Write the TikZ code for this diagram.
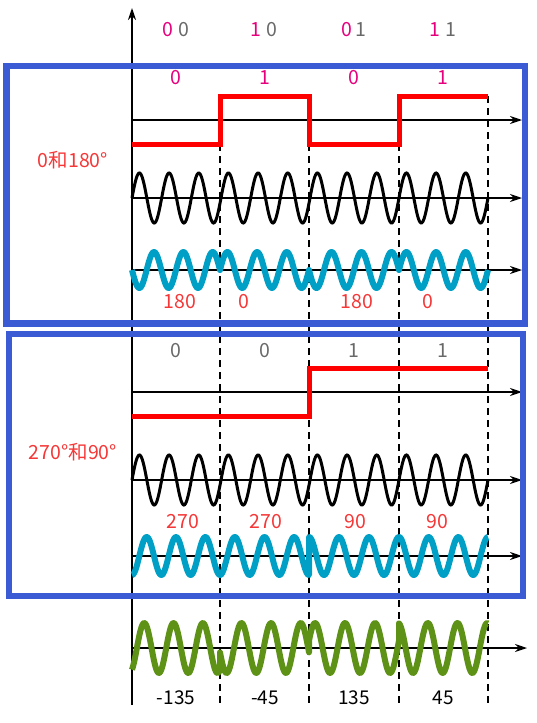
\documentclass[tikz,border=0pt]{standalone}
\usepackage{fontspec}
\setmainfont{Noto Sans CJK SC}
\usetikzlibrary{arrows.meta}
\definecolor{boxblue}{RGB}{59,91,212}
\definecolor{waveblue}{RGB}{0,160,198}
\definecolor{wavegreen}{RGB}{94,146,22}
\definecolor{pinkc}{RGB}{230,0,126}
\definecolor{greyc}{RGB}{105,105,105}
\definecolor{redlab}{RGB}{245,55,55}
\begin{document}
\begin{tikzpicture}[x=1pt,y=-1pt,
  ax/.style={line width=1.4pt,-{Stealth[length=12pt,width=8pt]}},
  dsh/.style={line width=1.4pt,dash pattern=on 7pt off 5pt},
  redsq/.style={red,line width=5pt},
  blk/.style={black,line width=3pt},
  bluew/.style={waveblue,line width=6pt,line join=round},
  greenw/.style={wavegreen,line width=6pt,line join=round},
  bx/.style={boxblue,line width=6.5pt},
  lab/.style={font=\fontsize{19.5}{21}\selectfont,inner sep=0pt},
  blab/.style={font=\fontsize{19}{21}\selectfont,inner sep=0pt,text=black}]
\useasboundingbox (0,0) rectangle (537,723);
% dashed guides
\foreach \gx in {220,309,399,488} \draw[dsh] (\gx,96) -- (\gx,705);
% axes
\draw[ax] (132,705) -- (132,8);
\foreach \ay in {120,198,270,392,480,556} \draw[ax] (132,\ay) -- (522,\ay);
\draw[ax] (132,648) -- (527,648);
% red square waves
\draw[redsq] (132,144) -- (220,144) -- (220,96) -- (309,96) -- (309,144) -- (399,144) -- (399,96) -- (488,96);
\draw[redsq] (132,416) -- (309,416) -- (309,368) -- (488,368);
% black carriers
\draw[blk] plot[domain=132:488,samples=420] (\x,{198-25*sin(12.13483*(\x-132))});
\draw[blk] plot[domain=132:488,samples=420] (\x,{480-25*sin(12.13483*(\x-132))});
% blue BPSK
\draw[bluew] plot[domain=132:220,samples=110] (\x,{270+18*sin(12.27273*(\x-132))})
  -- plot[domain=220:309,samples=110] (\x,{270-18*sin(12.13483*(\x-220))})
  -- plot[domain=309:399,samples=110] (\x,{270+18*sin(12*(\x-309))})
  -- plot[domain=399:488,samples=110] (\x,{270-18*sin(12.13483*(\x-399))});
\draw[bluew] plot[domain=132:220,samples=110] (\x,{556+19*cos(12.27273*(\x-132))})
  -- plot[domain=220:309,samples=110] (\x,{556+19*cos(12.13483*(\x-220))})
  -- plot[domain=309:399,samples=110] (\x,{556-19*cos(12*(\x-309))})
  -- plot[domain=399:488,samples=110] (\x,{556-19*cos(12.13483*(\x-399))});
% green sum
\draw[greenw] plot[domain=132:220,samples=110] (\x,{648-25*sin(12.27273*(\x-132)-60)})
  -- plot[domain=220:309,samples=110] (\x,{648-25*sin(12.13483*(\x-220)-170)})
  -- plot[domain=309:399,samples=110] (\x,{648-25*sin(12*(\x-309)+17)})
  -- plot[domain=399:488,samples=110] (\x,{648-25*sin(12.13483*(\x-399)+100)});
% top header digits
\node[lab,text=pinkc] (h1a) at (168,30) {0};
\node[lab,text=greyc] (h1b) at (184,30) {0};
\node[lab,text=pinkc] (h2a) at (256,30) {1};
\node[lab,text=greyc] (h2b) at (272,30) {0};
\node[lab,text=pinkc] (h3a) at (347,30) {0};
\node[lab,text=greyc] (h3b) at (361,30) {1};
\node[lab,text=pinkc] (h4a) at (435,30) {1};
\node[lab,text=greyc] (h4b) at (451,30) {1};
% box 1 labels
\node[lab,text=pinkc] (p1) at (176,78) {0};
\node[lab,text=pinkc] (p2) at (265,78) {1};
\node[lab,text=pinkc] (p3) at (354,78) {0};
\node[lab,text=pinkc] (p4) at (443,78) {1};
\node[lab,text=redlab] (m1) at (73,160) {0和180°};
\node[lab,text=redlab] (r1) at (180,302) {180};
\node[lab,text=redlab] (r2) at (244,302) {0};
\node[lab,text=redlab] (r3) at (357,302) {180};
\node[lab,text=redlab] (r4) at (428,302) {0};
% box 2 labels
\node[lab,text=greyc] (g1) at (176,351) {0};
\node[lab,text=greyc] (g2) at (265,351) {0};
\node[lab,text=greyc] (g3) at (354,351) {1};
\node[lab,text=greyc] (g4) at (443,351) {1};
\node[lab,text=redlab] (m2) at (73,452) {270°和90°};
\node[lab,text=redlab] (s1) at (183,522) {270};
\node[lab,text=redlab] (s2) at (266,522) {270};
\node[lab,text=redlab] (s3) at (355,522) {90};
\node[lab,text=redlab] (s4) at (437,522) {90};
% bottom labels
\node[blab] (b1) at (176,698) {-135};
\node[blab] (b2) at (265,698) {-45};
\node[blab] (b3) at (354,698) {135};
\node[blab] (b4) at (443,698) {45};
% boxes
\draw[bx] (6.5,66) rectangle (525,323.5);
\draw[bx] (9,334) rectangle (523,596);
\end{tikzpicture}
\end{document}
